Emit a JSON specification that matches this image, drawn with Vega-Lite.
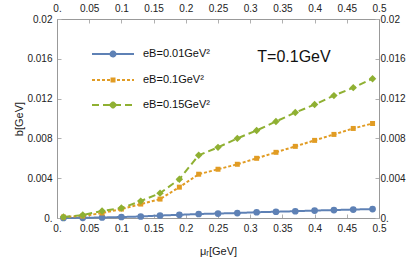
{
  "$schema": "https://vega.github.io/schema/vega-lite/v6.json",
  "width": 322,
  "height": 199,
  "autosize": {"type": "none"},
  "padding": {"left": 57, "top": 19, "right": 36, "bottom": 42},
  "background": "white",
  "config": {
    "view": {"stroke": null},
    "axis": {
      "grid": false,
      "domainColor": "#999999",
      "tickColor": "#b0b0b0",
      "tickSize": -4,
      "labelFont": "Liberation Sans",
      "labelFontSize": 10,
      "labelColor": "#222222",
      "labelFlush": false,
      "labelOverlap": false,
      "titleFont": "Liberation Sans",
      "titleFontSize": 11,
      "titleFontWeight": "normal",
      "titleColor": "#222222"
    }
  },
  "data": {
    "values": [
      {"x": 0.01, "b": 0.0, "s": "eB=0.01GeV²"},
      {"x": 0.04, "b": 0.00002, "s": "eB=0.01GeV²"},
      {"x": 0.07, "b": 0.00005, "s": "eB=0.01GeV²"},
      {"x": 0.10, "b": 0.0001, "s": "eB=0.01GeV²"},
      {"x": 0.13, "b": 0.00015, "s": "eB=0.01GeV²"},
      {"x": 0.16, "b": 0.00025, "s": "eB=0.01GeV²"},
      {"x": 0.19, "b": 0.00032, "s": "eB=0.01GeV²"},
      {"x": 0.22, "b": 0.0004, "s": "eB=0.01GeV²"},
      {"x": 0.25, "b": 0.00045, "s": "eB=0.01GeV²"},
      {"x": 0.28, "b": 0.0005, "s": "eB=0.01GeV²"},
      {"x": 0.31, "b": 0.00058, "s": "eB=0.01GeV²"},
      {"x": 0.34, "b": 0.00063, "s": "eB=0.01GeV²"},
      {"x": 0.37, "b": 0.00068, "s": "eB=0.01GeV²"},
      {"x": 0.40, "b": 0.00075, "s": "eB=0.01GeV²"},
      {"x": 0.43, "b": 0.0008, "s": "eB=0.01GeV²"},
      {"x": 0.46, "b": 0.00085, "s": "eB=0.01GeV²"},
      {"x": 0.49, "b": 0.0009, "s": "eB=0.01GeV²"},
      {"x": 0.01, "b": 0.0001, "s": "eB=0.1GeV²"},
      {"x": 0.04, "b": 0.0002, "s": "eB=0.1GeV²"},
      {"x": 0.07, "b": 0.0005, "s": "eB=0.1GeV²"},
      {"x": 0.10, "b": 0.0009, "s": "eB=0.1GeV²"},
      {"x": 0.13, "b": 0.0014, "s": "eB=0.1GeV²"},
      {"x": 0.16, "b": 0.0019, "s": "eB=0.1GeV²"},
      {"x": 0.19, "b": 0.0031, "s": "eB=0.1GeV²"},
      {"x": 0.22, "b": 0.0044, "s": "eB=0.1GeV²"},
      {"x": 0.25, "b": 0.0049, "s": "eB=0.1GeV²"},
      {"x": 0.28, "b": 0.0054, "s": "eB=0.1GeV²"},
      {"x": 0.31, "b": 0.006, "s": "eB=0.1GeV²"},
      {"x": 0.34, "b": 0.0066, "s": "eB=0.1GeV²"},
      {"x": 0.37, "b": 0.0072, "s": "eB=0.1GeV²"},
      {"x": 0.40, "b": 0.0078, "s": "eB=0.1GeV²"},
      {"x": 0.43, "b": 0.0084, "s": "eB=0.1GeV²"},
      {"x": 0.46, "b": 0.009, "s": "eB=0.1GeV²"},
      {"x": 0.49, "b": 0.0095, "s": "eB=0.1GeV²"},
      {"x": 0.01, "b": 0.0001, "s": "eB=0.15GeV²"},
      {"x": 0.04, "b": 0.0003, "s": "eB=0.15GeV²"},
      {"x": 0.07, "b": 0.0007, "s": "eB=0.15GeV²"},
      {"x": 0.10, "b": 0.001, "s": "eB=0.15GeV²"},
      {"x": 0.13, "b": 0.0017, "s": "eB=0.15GeV²"},
      {"x": 0.16, "b": 0.0025, "s": "eB=0.15GeV²"},
      {"x": 0.19, "b": 0.0039, "s": "eB=0.15GeV²"},
      {"x": 0.22, "b": 0.0063, "s": "eB=0.15GeV²"},
      {"x": 0.25, "b": 0.0071, "s": "eB=0.15GeV²"},
      {"x": 0.28, "b": 0.008, "s": "eB=0.15GeV²"},
      {"x": 0.31, "b": 0.0088, "s": "eB=0.15GeV²"},
      {"x": 0.34, "b": 0.0097, "s": "eB=0.15GeV²"},
      {"x": 0.37, "b": 0.0106, "s": "eB=0.15GeV²"},
      {"x": 0.40, "b": 0.0114, "s": "eB=0.15GeV²"},
      {"x": 0.43, "b": 0.0123, "s": "eB=0.15GeV²"},
      {"x": 0.46, "b": 0.0131, "s": "eB=0.15GeV²"},
      {"x": 0.49, "b": 0.014, "s": "eB=0.15GeV²"}
    ]
  },
  "layer": [
    {
      "mark": {"type": "line", "strokeWidth": 2},
      "encoding": {
        "x": {"field": "x", "type": "quantitative",
          "scale": {"domain": [0, 0.5], "nice": false, "zero": false},
          "axis": {"orient": "bottom", "values": [0, 0.05, 0.1, 0.15, 0.2, 0.25, 0.3, 0.35, 0.4, 0.45, 0.5],
            "labelExpr": "datum.value == 0 ? '0.' : format(datum.value, '~g')",
            "title": "μᵣ[GeV]", "titlePadding": 12, "labelPadding": 9}},
        "y": {"field": "b", "type": "quantitative",
          "scale": {"domain": [0, 0.02], "nice": false, "zero": false},
          "axis": {"orient": "left", "values": [0, 0.004, 0.008, 0.012, 0.016, 0.02],
            "labelExpr": "datum.value == 0 ? '0.' : format(datum.value, '~g')",
            "title": "b[GeV]", "titlePadding": 2, "labelPadding": 9}},
        "color": {"field": "s", "type": "nominal",
          "scale": {"domain": ["eB=0.01GeV²", "eB=0.1GeV²", "eB=0.15GeV²"], "range": ["#5E81B5", "#E19C24", "#8FB032"]}},
        "strokeDash": {"field": "s", "type": "nominal",
          "scale": {"domain": ["eB=0.01GeV²", "eB=0.1GeV²", "eB=0.15GeV²"], "range": [[1, 0], [3, 2], [7, 4]]}}
      }
    },
    {
      "transform": [{"filter": "datum.s === 'eB=0.01GeV²'"}],
      "mark": {"type": "point", "filled": true, "opacity": 1, "color": "#5E81B5", "shape": "circle", "size": 45},
      "encoding": {
        "x": {"field": "x", "type": "quantitative",
          "axis": {"orient": "top", "values": [0, 0.05, 0.1, 0.15, 0.2, 0.25, 0.3, 0.35, 0.4, 0.45, 0.5],
            "labelExpr": "datum.value == 0 ? '0.' : format(datum.value, '~g')",
            "title": null, "labelPadding": 10}},
        "y": {"field": "b", "type": "quantitative",
          "axis": {"orient": "right", "values": [0, 0.004, 0.008, 0.012, 0.016, 0.02],
            "labelExpr": "datum.value == 0 ? '0.' : format(datum.value, '~g')",
            "title": null, "labelPadding": 5}}
      }
    },
    {
      "transform": [{"filter": "datum.s === 'eB=0.1GeV²'"}],
      "mark": {"type": "point", "filled": true, "opacity": 1, "color": "#E19C24", "shape": "square", "size": 25},
      "encoding": {
        "x": {"field": "x", "type": "quantitative", "axis": null},
        "y": {"field": "b", "type": "quantitative", "axis": null}
      }
    },
    {
      "transform": [{"filter": "datum.s === 'eB=0.15GeV²'"}],
      "mark": {"type": "point", "filled": true, "opacity": 1, "color": "#8FB032", "shape": "diamond", "size": 55},
      "encoding": {
        "x": {"field": "x", "type": "quantitative", "axis": null},
        "y": {"field": "b", "type": "quantitative", "axis": null}
      }
    },
    {
      "mark": {"type": "point", "filled": false, "opacity": 0, "strokeWidth": 2},
      "encoding": {
        "x": {"field": "x", "type": "quantitative", "axis": null},
        "y": {"field": "b", "type": "quantitative", "axis": null},
        "color": {"field": "s", "type": "nominal",
          "legend": {
            "title": null, "orient": "none", "legendX": 45, "legendY": 24,
            "padding": 0, "rowPadding": 8, "symbolSize": 400, "labelOffset": 19,
            "labelFont": "Liberation Sans", "labelFontSize": 11, "labelColor": "#111111",
            "symbolStrokeWidth": 2, "symbolOpacity": 1, "symbolFillColor": "transparent"
          }},
        "strokeDash": {"field": "s", "type": "nominal"},
        "shape": {"field": "s", "type": "nominal",
          "scale": {"domain": ["eB=0.01GeV²", "eB=0.1GeV²", "eB=0.15GeV²"],
            "range": [
              "M-2.1,0H2.1M0.25,0A0.25,0.25,0,1,1,-0.25,0A0.25,0.25,0,1,1,0.25,0ZM0.1,0A0.1,0.1,0,1,1,-0.1,0A0.1,0.1,0,1,1,0.1,0Z",
              "M-2.1,0H2.1M-0.25,-0.15H0M0,-0.15H0.25M-0.25,0H0M0,0H0.25M-0.25,0.15H0M0,0.15H0.25",
              "M-2.1,0H2.1M0,-0.3L0.3,0M0.3,0L0,0.3M0,0.3L-0.3,0M-0.3,0L0,-0.3M-0.15,0H0.15"
            ]}}
      }
    },
    {
      "data": {"values": [{}]},
      "mark": {"type": "text", "font": "Liberation Sans", "fontSize": 16, "color": "#111111", "align": "center", "baseline": "middle"},
      "encoding": {
        "x": {"datum": 0.368, "type": "quantitative", "axis": null},
        "y": {"datum": 0.0162, "type": "quantitative", "axis": null},
        "text": {"value": "T=0.1GeV"}
      }
    }
  ]
}
